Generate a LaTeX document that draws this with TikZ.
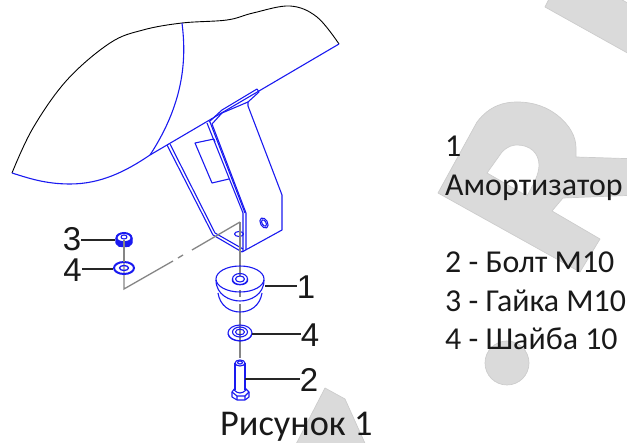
\documentclass[tikz,border=0pt]{standalone}
\usepackage{fontspec}
\setmainfont{Carlito}
\newfontfamily\arialf{Liberation Sans}
\definecolor{wm}{HTML}{DADADA}
\definecolor{wme}{HTML}{CCCCCC}
\definecolor{partblue}{HTML}{1A1AF0}
\definecolor{axisgray}{HTML}{858585}
\tikzset{
 wmark/.style={fill=wm,draw=wme,line width=.7pt,line join=round},
 part/.style={draw=partblue,line width=1.1pt,line join=round},
 heavy/.style={draw=partblue,line width=2pt},
 outline/.style={draw=black,line width=.9pt},
 axis/.style={draw=axisgray,line width=1.3pt},
 leader/.style={draw=black!85,line width=1.3pt},
 callout/.style={font=\arialf\fontsize{33}{33}\selectfont,inner sep=0pt,text=black!90},
 legend/.style={font=\fontsize{31.9}{32}\selectfont,inner sep=0pt,anchor=base west,text=black!90},
 caption/.style={font=\fontsize{36.3}{37}\selectfont,inner sep=0pt,anchor=base west,text=black!90}
}
\begin{document}
\begin{tikzpicture}[x=1pt,y=-1pt]
\useasboundingbox (0,0) rectangle (627,443);
% watermark
\fill[wmark] (438,193) -- (477,122) .. controls (490,105) and (505,102) .. (517,102)
  .. controls (535,102) and (548,108) .. (557,115) .. controls (570,125) and (576,137) .. (576,148)
  -- (576,157) -- (640,159) -- (640,195) -- (563,198) -- (552,211) -- (600,239) -- (580,272) -- cycle;
\fill[white,draw=wme,line width=.7pt] (487,173) -- (502,152) .. controls (508,146) and (513,145) .. (517,145)
  .. controls (530,145) and (539,153) .. (539,165) .. controls (539,175) and (533,185) .. (527,196) -- cycle;
\fill[wmark] (545,7) -- (550,-3) -- (617,-3) -- (640,10) -- (640,60) -- cycle;
\fill[wmark] (507,363) circle (22);
\fill[wmark] (325,388) -- (345,399) -- (368,450) -- (293,450) -- cycle;
% fender
\draw[outline] plot[smooth,tension=.6] coordinates {(12,173) (33,128) (67,80) (110,43) (143,30) (182,23) (227,20) (253,13) (290,6) (317,17) (339,44)};
\draw[part] (339,44) -- (150,155) .. controls (125,172) and (100,184) .. (70,184) .. controls (45,184) and (28,178) .. (12,173);
\draw[part] (182,23) .. controls (186,55) and (186,100) .. (150,155);
% bracket
\draw[part] (167,145) -- (213,235) -- (242,252) -- (282,230) -- (282,195) -- (248,106) -- (248,102) -- (259,92) -- (257,89) -- (222,110) -- (209,122);
\draw[part] (170,144) -- (215,233) -- (243,249) (222,113) -- (212,124) -- (246,213) -- (246,250) (248,102) -- (222,113);
\draw[part] (207,123) -- (243,213) -- (243,252) (210,122) -- (245,213);
\draw[part] (214,139) -- (195,143) -- (212,183) -- (229,179);
\draw[part] (214,139) -- (215,142);
\draw[part,rotate around={-60:(264,223)}] (264,223) ellipse (5.5 and 3.5);
\draw[part,rotate around={-60:(264,223)}] (264,223) ellipse (3.5 and 2);
\draw[part] (239,234) ellipse (4.5 and 2.5);
% axes
\draw[axis] (240,222) -- (240,276);
\draw[axis] (240,290) -- (240,297);
\draw[axis] (240,304) -- (240,358);
\draw[axis] (240,222) -- (192,250);
\draw[axis] (183,255) -- (178,258);
\draw[axis] (173,261) -- (124,289) -- (124,240);
% rubber mount
\draw[part] (240,279) ellipse (24 and 13);
\draw[part] (216,280) .. controls (216,295) and (230,301) .. (240,301) .. controls (250,301) and (264,295) .. (264,280);
\draw[part] (218,293) .. controls (220,306) and (230,312) .. (240,312) .. controls (250,312) and (260,306) .. (262,293);
\draw[part] (240,279) ellipse (7.5 and 5.5);
\draw[part] (240,279) ellipse (4.5 and 3);
\draw[part] (232.5,279) -- (232.5,281) .. controls (234,286) and (246,286) .. (247.5,281) -- (247.5,279);
% lower washer
\draw[part] (240,333) ellipse (12 and 8);
\draw[part] (240,332) ellipse (7.5 and 5);
\draw[part] (240,332) ellipse (4.5 and 2.8);
\draw[part] (228,334) .. controls (230,343) and (250,343) .. (252,334);
% bolt
\draw[part] (240,363) ellipse (5 and 3);
\draw[part] (240,362.5) ellipse (2.5 and 1.5);
\draw[part] (235,363) -- (235,390) (245,363) -- (245,390);
\draw[part] (234,390) .. controls (238,394) and (242,394) .. (246,390);
\draw[part] (235,388) -- (232,392) -- (232,397) -- (237,400) -- (245,400) -- (249,397) -- (249,392) -- (245,388);
\draw[part] (232,392) -- (237,396) -- (245,396) -- (249,392) (237,396) -- (237,400) (245,396) -- (245,400);
% left nut and washer
\draw[heavy] (124,238) ellipse (7.5 and 5);
\draw[part] (124,237) ellipse (3 and 2);
\draw[part,fill=partblue] (116,238) -- (116,243) .. controls (118,248) and (130,248) .. (132,243) -- (132,238) .. controls (130,243) and (118,243) .. (116,238);
\draw[part,fill=white] (119,244) rectangle (129,246);
\draw[heavy] (124,268) ellipse (10 and 6);
\draw[part,line width=1.3pt] (124,268) ellipse (4.5 and 2.5);
\draw[axis] (124,240) -- (124,262);
% callouts
\coordinate (p3) at (115,240);
\coordinate (p4a) at (113,269);
\coordinate (p1) at (265,286);
\coordinate (p4b) at (252,334);
\coordinate (p2) at (245,379);
\node[callout] (c3) at (72,239.5) {3};
\node[callout] (c4a) at (72.5,270.5) {4};
\node[callout] (c1) at (306,287.5) {1};
\node[callout] (c4b) at (310,335.5) {4};
\node[callout] (c2) at (309,379.5) {2};
\draw[leader] (c3.east) ++(0,.5) -- (p3);
\draw[leader] (c4a.east) ++(0,-1.5) -- (p4a);
\draw[leader] (p1) -- (c1.west |- p1);
\draw[leader] (p4b) -- (c4b.west |- p4b);
\draw[leader] (p2) -- (c2.west |- p2);
% texts
\node[legend] (t1) at (445,157) {1};
\node[legend] (t1b) at (445,195.5) {Амортизатор};
\node[legend] (t2) at (445,273) {2 - Болт М10};
\node[legend] (t3) at (445,311.5) {3 - Гайка М10};
\node[legend] (t4) at (445,350) {4 - Шайба 10};
\node[caption] (cap) at (220,436) {Рисунок 1};
\end{tikzpicture}
\end{document}
